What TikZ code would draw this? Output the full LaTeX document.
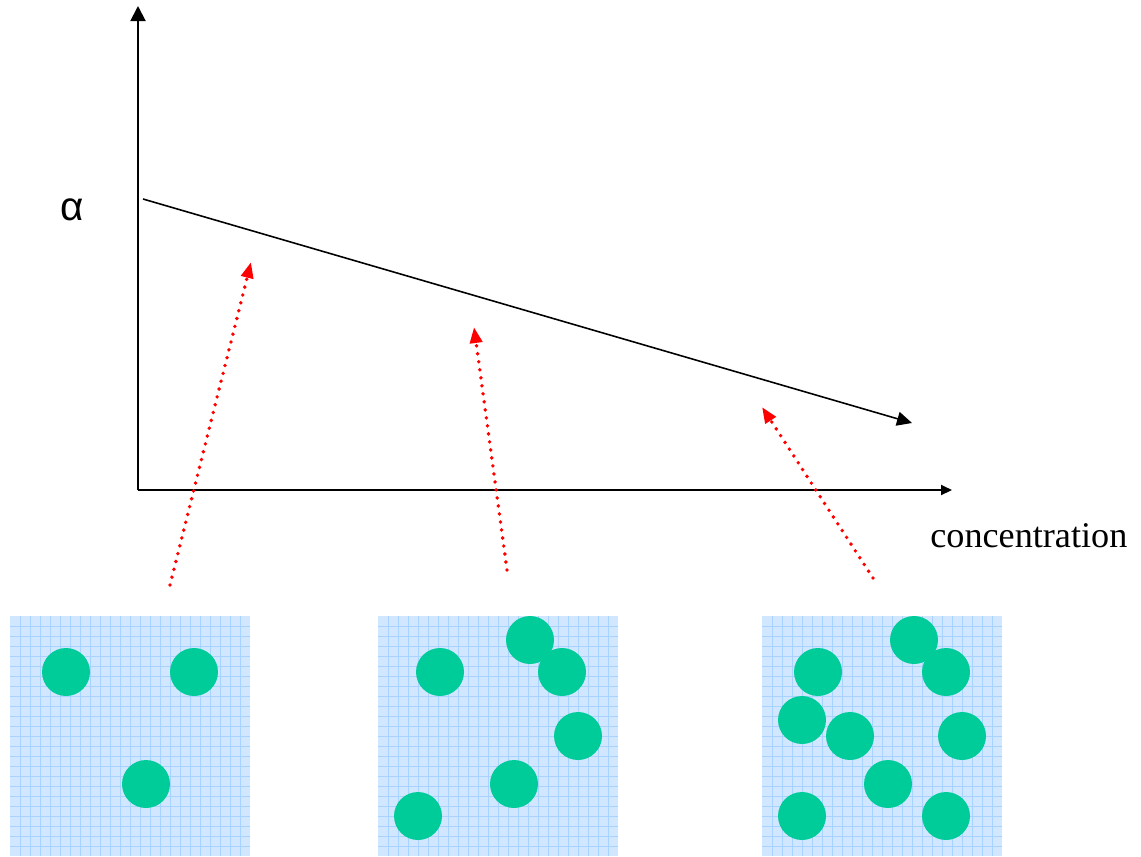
\documentclass[tikz,border=0pt]{standalone}
\usepackage{fontspec}
\setmainfont{Liberation Serif}
\newfontfamily\alphafont{Liberation Sans}
\usetikzlibrary{arrows.meta}
\definecolor{particle}{RGB}{0,204,153}
\definecolor{cellfill}{RGB}{208,231,255}
\definecolor{cellline}{RGB}{168,210,255}

\begin{document}
\begin{tikzpicture}[x=0.02cm, y=-0.02cm,
	axis/.style={line width=1.1pt, -{Triangle[length=0.3cm, width=0.3cm]}},
	trend/.style={line width=0.9pt, -{Triangle[length=0.3cm, width=0.28cm]}},
	pointer/.style={red, line width=2.2pt, line cap=round, dash pattern=on 0pt off 4.6pt, -{Triangle[length=0.32cm, width=0.24cm]}},
	cell/.style={fill=cellfill},
	cellgrid/.style={cellline, line width=0.45pt},
	particlefill/.style={fill=particle}]
	\useasboundingbox (0,0) rectangle (1141,856);
	% axes
	\coordinate (O) at (138,490);
	\coordinate (ytop) at (138,6);
	\coordinate (xend) at (952,490);
	\draw[axis] (O) -- (ytop);
	\draw[axis, -{Triangle[length=0.22cm, width=0.2cm]}] (O) -- (xend);
	\coordinate (tstart) at (143,199);
	\coordinate (tend) at (912,423);
	\draw[trend] (tstart) -- (tend);
	\node[font=\alphafont\fontsize{23}{27}\selectfont] (alpha) at (72,210) {α};
	\node[font=\fontsize{20.6}{25}\selectfont, anchor=base west, inner sep=0pt] (conc) at (930,547) {concentration};
	% concentration boxes
	\foreach \bx/\name in {10/low, 378/mid, 762/high} {
		\fill[cell] (\bx,616) rectangle ++(240,240);
		\foreach \i in {10,20,...,230} {
			\draw[cellgrid] (\bx+\i,616) -- ++(0,240);
			\draw[cellgrid] (\bx,616+\i) -- ++(240,0);
		}
		\coordinate (\name) at (\bx,616);
	}
	\foreach \cx/\cy in {66/672, 194/672, 146/784,
		440/672, 530/640, 562/672, 578/736, 514/784, 418/816,
		818/672, 914/640, 946/672, 802/720, 850/736, 962/736, 888/784, 802/816, 946/816}
		\fill[particlefill] (\cx,\cy) circle[radius=0.48cm];
	% pointers
	\coordinate (p1s) at (170,585);
	\coordinate (p1e) at (251,262);
	\coordinate (p2s) at (507,570);
	\coordinate (p2e) at (474,327);
	\coordinate (p3s) at (873,578);
	\coordinate (p3e) at (762,407);
	\draw[pointer] (p1s) -- (p1e);
	\draw[pointer] (p2s) -- (p2e);
	\draw[pointer] (p3s) -- (p3e);
\end{tikzpicture}
\end{document}
